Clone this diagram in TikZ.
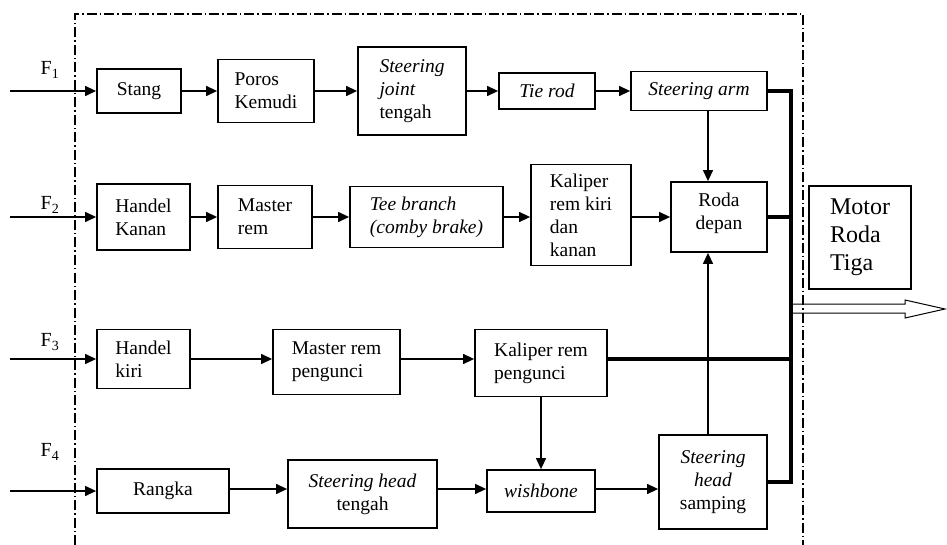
\documentclass[tikz,border=0pt]{standalone}
\usepackage{fontspec}
\setmainfont{Liberation Serif}
\usetikzlibrary{arrows.meta}

\tikzset{
  blok/.style={draw, line width=1.8pt, inner sep=0pt, align=left,
    font=\fontsize{19.5}{23}\selectfont},
  panah/.style={line width=1.3pt, -{Triangle[length=11pt,width=10pt]}},
  bus/.style={line width=3.5pt},
  gaya/.style={font=\fontsize{20}{24}\selectfont},
  bingkai/.style={line width=1.2pt, dash pattern=on 10pt off 3pt on 1.5pt off 3pt}
}

\begin{document}
\begin{tikzpicture}[x=1pt,y=-1pt]
\useasboundingbox (0,0) rectangle (947,545);

% Frame
\draw[bingkai] (75,545) -- (75,14) -- (803,14) -- (803,545);

% Row 1 (F1)
\node[blok, minimum width=84pt, minimum height=44pt, align=center] (stang) at (139,91) {Stang};
\node[blok, minimum width=96pt, minimum height=63pt] (poros) at (266,91) {Poros\\Kemudi};
\node[blok, minimum width=108pt, minimum height=88pt] (sjoint) at (412,91) {\textit{Steering}\\\textit{joint}\\tengah};
\node[blok, minimum width=96pt, minimum height=36pt] (tierod) at (547,91) {\textit{Tie rod}};
\node[blok, minimum width=136pt, minimum height=39pt] (sarm) at (699,91) {\textit{Steering arm}};

% Row 2 (F2)
\node[blok, minimum width=93pt, minimum height=66pt] (hkanan) at (143.5,217) {Handel\\Kanan};
\node[blok, minimum width=94pt, minimum height=63pt] (mrem) at (265,217) {Master\\rem};
\node[blok, minimum width=153pt, minimum height=61pt] (tee) at (426.5,217) {\textit{Tee branch}\\\textit{(comby brake)}};
\node[blok, minimum width=100pt, minimum height=101pt] (kkk) at (581,215) {Kaliper\\rem kiri\\dan\\kanan};
\node[blok, minimum width=96pt, minimum height=70pt, align=center] (roda) at (719,217) {};
\node[font=\fontsize{19.5}{23}\selectfont, align=center] (rodateks) at (719,213) {Roda\\depan};

% Output block
\node[blok, minimum width=102pt, minimum height=103pt, font=\fontsize{24}{28}\selectfont] (motor) at (860,237.5) {Motor\\Roda\\Tiga};

% Row 3 (F3)
\node[blok, minimum width=93pt, minimum height=59pt] (hkiri) at (143.5,359) {Handel\\kiri};
\node[blok, minimum width=127pt, minimum height=65pt] (mrp) at (336.5,362) {Master rem\\pengunci};
\node[blok, minimum width=132pt, minimum height=67pt] (kpeng) at (541,363) {Kaliper rem\\pengunci};

% Row 4 (F4)
\node[blok, minimum width=132pt, minimum height=44pt, align=center] (rangka) at (163,491) {Rangka};
\node[blok, minimum width=149pt, minimum height=68pt, align=center] (sht) at (362.5,494) {\textit{Steering head}\\tengah};
\node[blok, minimum width=108pt, minimum height=42pt] (wb) at (541,491) {\textit{wishbone}};
\node[blok, minimum width=108pt, minimum height=94pt, align=center] (shs) at (713,482) {\textit{Steering}\\\textit{head}\\samping};

% Inputs
\node[gaya] (f1) at (50,70) {F\textsubscript{1}};
\node[gaya] (f2) at (50,205) {F\textsubscript{2}};
\node[gaya] (f3) at (50,342) {F\textsubscript{3}};
\node[gaya] (f4) at (50,452) {F\textsubscript{4}};
\coordinate (in1) at (10,91);
\coordinate (in2) at (10,217);
\coordinate (in3) at (10,359);
\coordinate (in4) at (10,491);
\draw[panah] (in1) -- (stang.west);
\draw[panah] (in2) -- (hkanan.west);
\draw[panah] (in3) -- (hkiri.west);
\draw[panah] (in4) -- (rangka.west);

% Connections
\draw[panah] (stang.east) -- (stang.east -| poros.west);
\draw[panah] (poros.east) -- (poros.east -| sjoint.west);
\draw[panah] (sjoint.east) -- (sjoint.east -| tierod.west);
\draw[panah] (tierod.east) -- (tierod.east -| sarm.west);

\draw[panah] (hkanan.east) -- (hkanan.east -| mrem.west);
\draw[panah] (mrem.east) -- (mrem.east -| tee.west);
\draw[panah] (tee.east) -- (tee.east -| kkk.west);
\draw[panah] (roda.west -| kkk.east) -- (roda.west);

\draw[panah] (hkiri.east) -- (hkiri.east -| mrp.west);
\draw[panah] (mrp.east |- hkiri.east) -- (hkiri.east -| kpeng.west);
\draw[panah] (kpeng.south) -- (wb.north);

\draw[panah] (rangka.east |- 0,489) -- (sht.west |- 0,489);
\draw[panah] (sht.east |- 0,489) -- (wb.west |- 0,489);
\draw[panah] (wb.east |- 0,489) -- (shs.west |- 0,489);

\coordinate (vx) at (708,0);
\draw[panah] (sarm.south -| vx) -- (roda.north -| vx);
\draw[panah] (shs.north -| vx) -- (roda.south -| vx);

% Bus to output
\coordinate (busx) at (791,0);
\draw[bus] (sarm.east) -- (sarm.east -| busx) -- (shs.east -| busx) -- (shs.east);
\draw[bus] (roda.east) -- (roda.east -| busx);
\draw[bus] (kpeng.east |- hkiri.east) -- (hkiri.east -| busx);

\coordinate (keluar) at (945,309);
\draw[line width=1pt] (791,304) -- (905,304) -- (905,300) -- (keluar)
  -- (905,318) -- (905,313) -- (791,313);

\end{tikzpicture}
\end{document}
